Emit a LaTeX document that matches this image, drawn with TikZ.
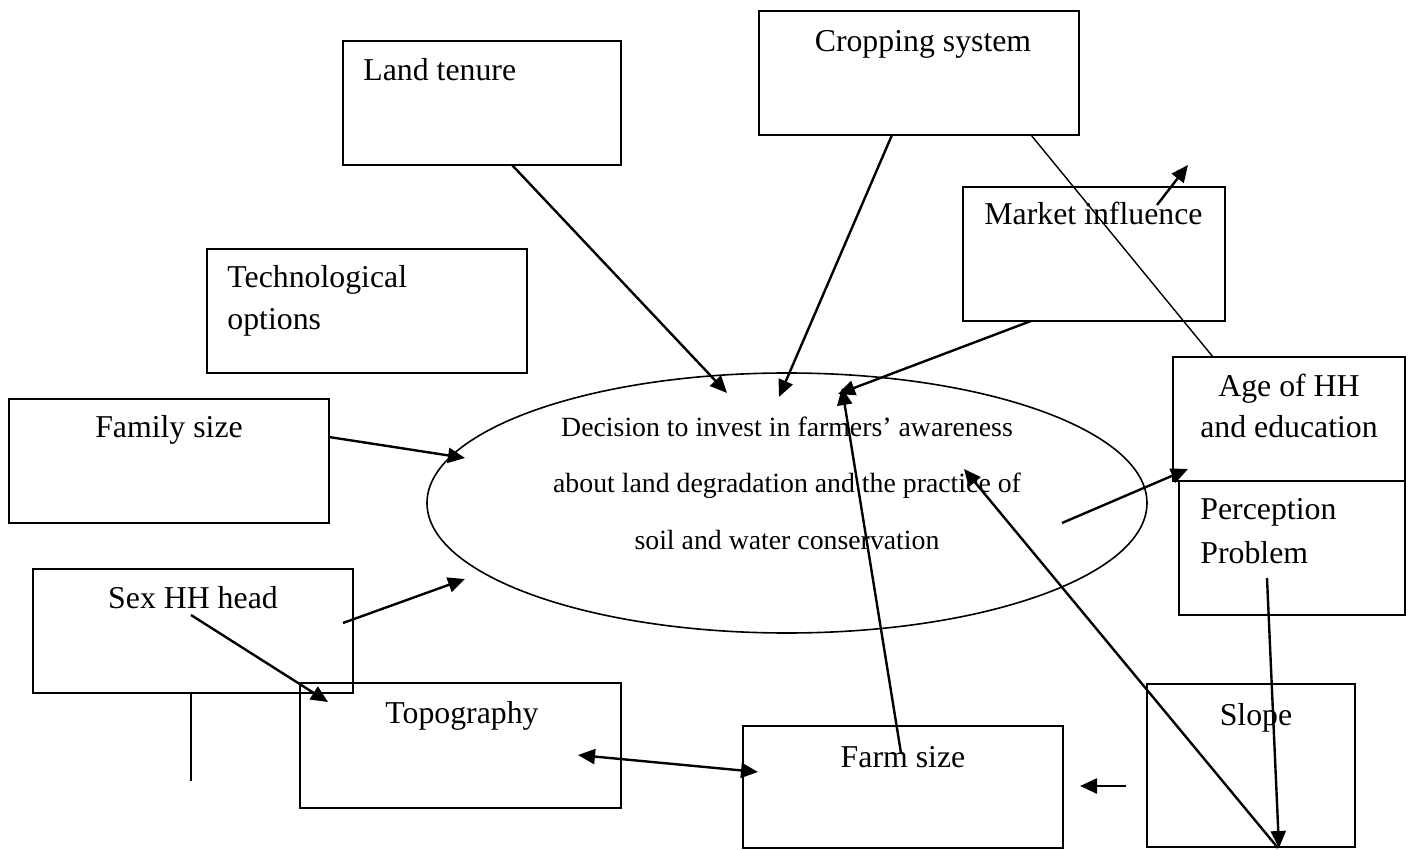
\documentclass[tikz,border=0pt]{standalone}
\usepackage{fontspec}
\setmainfont{Liberation Serif}
\usetikzlibrary{arrows.meta,shapes.geometric,fit}
\begin{document}
\begin{tikzpicture}[x=0.5pt,y=-0.5pt,
  rbox/.style={draw,line width=1pt,inner sep=0pt},
  lbl/.style={inner sep=0pt,font=\fontsize{15.9}{19}\selectfont},
  elbl/.style={inner sep=0pt,font=\fontsize{13.9}{17}\selectfont},
  arr/.style={line width=1.2pt,-{Triangle[length=8.5pt,width=7.5pt]}},
  darr/.style={line width=1.2pt,{Triangle[length=8.5pt,width=7.5pt]}-{Triangle[length=8.5pt,width=7.5pt]}},
  link/.style={line width=0.7pt}]
\useasboundingbox (0,0) rectangle (1410,850);

% boxes
\node[rbox, fit={(343,41)(621,165)}] (landbox) {};
\node[rbox, fit={(759,11)(1079,135)}] (cropbox) {};
\node[rbox, fit={(963,187)(1225,321)}] (marketbox) {};
\node[rbox, fit={(207,249)(527,373)}] (techbox) {};
\node[rbox, fit={(9,399)(329,523)}] (fambox) {};
\node[rbox, fit={(1173,357)(1405,481)}] (agebox) {};
\node[rbox, fit={(1179,481)(1405,615)}] (perbox) {};
\node[rbox, fit={(33,569)(353,693)}] (sexbox) {};
\node[rbox, fit={(300,683)(621,808)}] (topobox) {};
\node[rbox, fit={(743,726)(1063,848)}] (farmbox) {};
\node[rbox, fit={(1147,684)(1355,847)}] (slopebox) {};

% central ellipse
\node[draw, line width=0.8pt, ellipse, inner sep=0pt, minimum width=360pt, minimum height=130pt] (goal) at (787,503) {};
\node[elbl, anchor=base] (g1) at (787,437) {Decision to invest in farmers’ awareness};
\node[elbl, anchor=base] (g2) at (787,493) {about land degradation and the practice of};
\node[elbl, anchor=base] (g3) at (787,550) {soil and water conservation};

% labels
\node[lbl, anchor=base west] (landtxt) at (363,81) {Land tenure};
\node[lbl, anchor=base] (croptxt) at (923,52) {Cropping system};
\node[lbl, anchor=base west] (markettxt) at (984,225) {Market influence};
\node[lbl, anchor=base west] (techtxt1) at (227,288) {Technological};
\node[lbl, anchor=base west] (techtxt2) at (227,330) {options};
\node[lbl, anchor=base] (famtxt) at (169,438) {Family size};
\node[lbl, anchor=base] (agetxt1) at (1289,397) {Age of HH};
\node[lbl, anchor=base] (agetxt2) at (1289,438) {and education};
\node[lbl, anchor=base west] (pertxt1) at (1200,520) {Perception};
\node[lbl, anchor=base west] (pertxt2) at (1200,563) {Problem};
\node[lbl, anchor=base] (sextxt) at (193,608) {Sex HH head};
\node[lbl, anchor=base] (topotxt) at (462,723) {Topography};
\node[lbl, anchor=base] (farmtxt) at (903,767) {Farm size};
\node[lbl, anchor=base] (slopetxt) at (1256,725) {Slope};

% connector end points
\coordinate (landS) at (512,165);
\coordinate (landE) at (727,393);
\coordinate (cropS) at (892,135);
\coordinate (cropE) at (779,397);
\coordinate (cropS2) at (1031,135);
\coordinate (ageT) at (1213,357);
\coordinate (mktS) at (1157,205);
\coordinate (mktE) at (1188,165);
\coordinate (mktS2) at (1031,321);
\coordinate (mktE2) at (838,394);
\coordinate (famS) at (329,437);
\coordinate (famE) at (465,458);
\coordinate (sexS) at (343,623);
\coordinate (sexE) at (465,579);
\coordinate (sexS2) at (191,615);
\coordinate (topoE) at (328,702);
\coordinate (sexB) at (191,693);
\coordinate (sexL) at (191,781);
\coordinate (topoP) at (578,755);
\coordinate (farmP) at (758,772);
\coordinate (farmS) at (901,753);
\coordinate (farmE) at (842,388);
\coordinate (goalS) at (1062,523);
\coordinate (ageE) at (1188,469);
\coordinate (perS) at (1267,578);
\coordinate (slopeE) at (1279,848);
\coordinate (slopeS) at (1278,848);
\coordinate (goalE) at (964,469);
\coordinate (shortS) at (1126,786);
\coordinate (shortE) at (1080,786);

% connectors
\draw[arr] (landS) -- (landE);
\draw[arr] (cropS) -- (cropE);
\draw[link] (cropS2) -- (ageT);
\draw[arr] (mktS) -- (mktE);
\draw[arr] (mktS2) -- (mktE2);
\draw[arr] (famS) -- (famE);
\draw[arr] (sexS) -- (sexE);
\draw[arr] (sexS2) -- (topoE);
\draw[link] (sexB) -- (sexL);
\draw[darr] (topoP) -- (farmP);
\draw[arr] (farmS) -- (farmE);
\draw[arr] (goalS) -- (ageE);
\draw[arr] (perS) -- (slopeE);
\draw[arr] (slopeS) -- (goalE);
\draw[arr] (shortS) -- (shortE);
\end{tikzpicture}
\end{document}
